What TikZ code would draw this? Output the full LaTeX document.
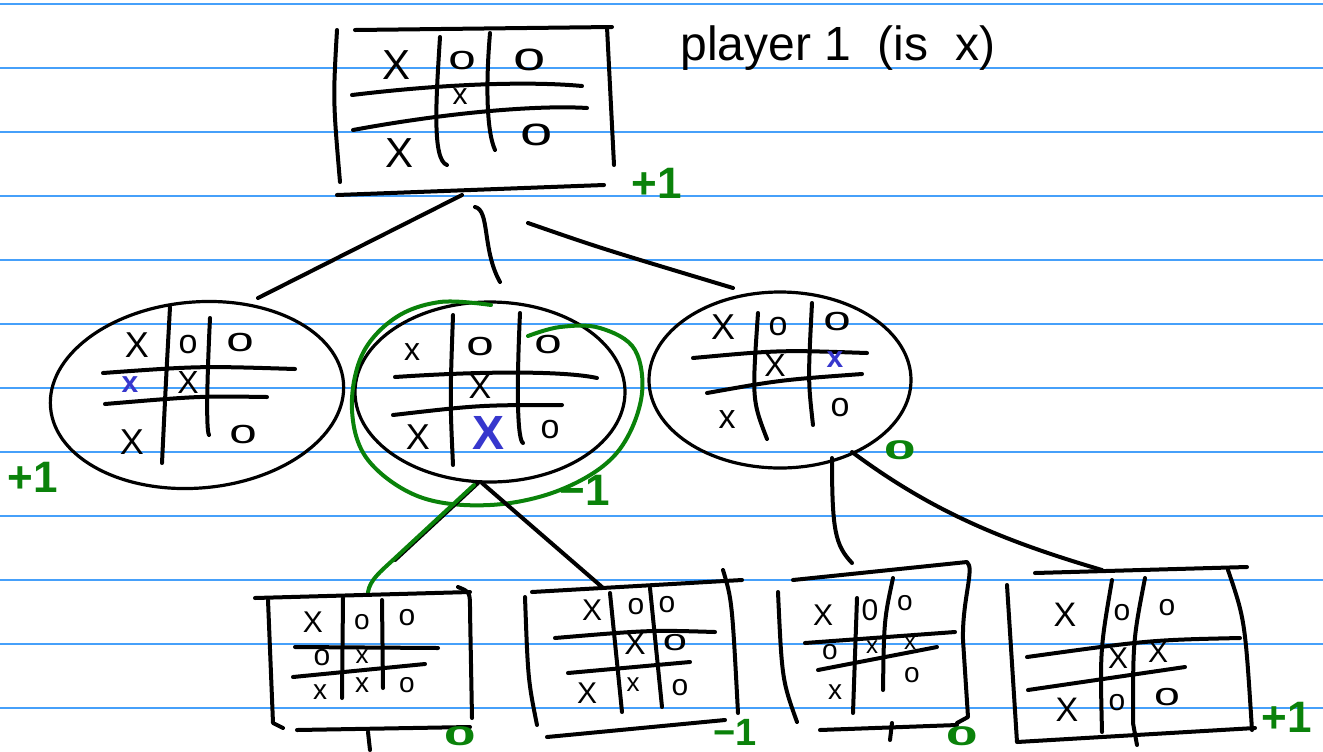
\documentclass[tikz,border=0pt]{standalone}
\usepackage{fontspec}
\usepackage{graphicx}
\setmainfont{Liberation Sans}
\usetikzlibrary{shapes.geometric}
\definecolor{ruleblue}{RGB}{70,160,250}
\definecolor{scoregreen}{RGB}{10,130,10}
\definecolor{moveblue}{RGB}{55,55,205}
\newcommand\wideo[1]{\scalebox{1.45}[1]{#1}}
\newcommand\flatz{\fontsize{18}{18}\selectfont\scalebox{1.6}[0.75]{0}}
\begin{document}
\begin{tikzpicture}[x=0.5pt,y=-0.5pt,
  rule/.style={draw=ruleblue,line width=0.75pt},
  ink/.style={draw=black,line width=2pt,line cap=round,line join=round},
  grn/.style={draw=scoregreen,line width=2pt,line cap=round,line join=round},
  oval/.style={draw=black,line width=1.6pt,ellipse,inner sep=0pt},
  mk/.style={inner sep=0pt,text=black,font=\fontsize{#1}{#1}\selectfont},
  bmk/.style={inner sep=0pt,text=moveblue,font=\fontsize{#1}{#1}\selectfont\bfseries},
  score/.style={inner sep=0pt,text=scoregreen,font=\fontsize{22}{22}\selectfont\bfseries},
  note/.style={inner sep=0pt,text=black,font=\fontsize{24}{24}\selectfont}
]
\fill[white] (0,0) rectangle (1323,751);
\useasboundingbox (0,0) rectangle (1323,751);
\foreach \y in {4,68,...,708} \draw[rule] (0,\y) -- (1323,\y);

% ---------------- top board
\draw[ink] (337,30) .. controls (333,100) .. (340,182);
\draw[ink] (355,30) -- (612,27);
\draw[ink] (607,27) -- (614,165);
\draw[ink] (337,195) -- (604,185);
\draw[ink] (352,95) .. controls (460,82) and (540,82) .. (582,86);
\draw[ink] (353,130) .. controls (450,112) and (540,105) .. (587,108);
\draw[ink] (440,37) .. controls (436,100) and (432,160) .. (447,165);
\draw[ink] (490,33) .. controls (486,80) and (486,130) .. (495,150);
\node[mk=21] (t1) at (397,65) {X};
\node[mk=17] (t2) at (462,61) {\wideo{o}};
\node[mk=20] (t3) at (530,60) {\wideo{o}};
\node[mk=15] (t4) at (460,97) {x};
\node[mk=21] (t5) at (400,153) {X};
\node[mk=20] (t6) at (537,135) {\wideo{o}};
\node[score] (sTop) at (657,183) {+1};
\node[note,anchor=west] (player) at (680,48) {player 1 \ (is \ x)};
\coordinate (topA) at (462,195);
\coordinate (topB) at (475,207);
\coordinate (topC) at (528,223);

% ---------------- middle level
\node[oval,minimum width=147pt,minimum height=93pt,rotate=5] (L) at (197,395) {};
\node[oval,minimum width=135pt,minimum height=90pt] (M) at (490,392) {};
\node[oval,minimum width=131pt,minimum height=88pt] (R) at (780,380) {};
\coordinate (Ltop) at (258,298);
\coordinate (Mtop) at (500,282);
\coordinate (Rtop) at (733,288);

\draw[ink] (topA) -- (Ltop);
\draw[ink] (topB) .. controls (490,210) and (482,250) .. (Mtop);
\draw[ink] (topC) .. controls (600,248) .. (Rtop);

% left board grid
\draw[ink] (170,307) .. controls (166,380) .. (162,463);
\draw[ink] (210,318) .. controls (207,380) and (206,430) .. (209,435);
\draw[ink] (103,373) .. controls (200,366) .. (295,369);
\draw[ink] (105,404) .. controls (200,396) .. (267,397);
\node[mk=18] (l1) at (137,345) {X};
\node[mk=17] (l2) at (188,345) {o};
\node[mk=17] (l3) at (240,343) {\wideo{o}};
\node[bmk=15] (l4) at (130,385) {x};
\node[mk=16] (l5) at (188,382) {X};
\node[mk=18] (l6) at (132,442) {X};
\node[mk=17] (l7) at (243,435) {\wideo{o}};
\node[score] (sL) at (33,477) {+1};

% middle board grid
\draw[ink] (453,315) .. controls (450,400) .. (453,465);
\draw[ink] (520,313) .. controls (516,400) and (518,440) .. (523,443);
\draw[ink] (395,377) .. controls (500,370) and (570,372) .. (597,378);
\draw[ink] (393,415) .. controls (480,405) .. (562,405);
\node[mk=16] (m1) at (412,352) {x};
\node[mk=17] (m2) at (480,347) {\wideo{o}};
\node[mk=17] (m3) at (548,345) {\wideo{o}};
\node[mk=17] (m4) at (480,387) {X};
\node[mk=18] (m5) at (418,437) {X};
\node[bmk=24] (m6) at (489,433) {X};
\node[mk=17] (m7) at (550,430) {o};
\draw[grn] plot[smooth,tension=0.6] coordinates {(491,305) (440,302) (395,318) (362,355) (352,410) (368,460) (420,497) (490,505) (560,490) (615,455) (641,400) (635,350) (600,328) (560,327) (528,336)};
\node[score] (sM) at (585,490) {−1};

% right board grid
\draw[ink] (758,313) .. controls (752,400) .. (767,439);
\draw[ink] (812,303) .. controls (808,380) .. (813,425);
\draw[ink] (693,358) .. controls (780,350) .. (867,353);
\draw[ink] (707,393) .. controls (780,380) .. (862,374);
\node[mk=18] (r1) at (723,327) {X};
\node[mk=17] (r2) at (778,327) {o};
\node[mk=17] (r3) at (837,322) {\wideo{o}};
\node[mk=16] (r4) at (775,365) {X};
\node[bmk=15] (r5) at (835,360) {x};
\node[mk=17] (r6) at (727,420) {x};
\node[mk=17] (r7) at (840,408) {o};
\node[score] (sR) at (900,450) {\flatz};

% connectors to bottom level
\coordinate (Mb1) at (478,483);
\coordinate (Mb2) at (482,483);
\coordinate (Rb1) at (832,458);
\coordinate (Rb2) at (852,452);
\coordinate (B1top) at (368,592);
\coordinate (B2top) at (602,587);
\coordinate (B3top) at (852,563);
\coordinate (B4top) at (1102,570);
\draw[ink] (Mb1) -- (395,560);
\draw[grn] (474,485) -- (393,560) .. controls (380,572) and (370,580) .. (B1top);
\draw[ink] (Mb2) -- (B2top);
\draw[ink] (Rb1) .. controls (832,530) and (835,545) .. (B3top);
\draw[ink] (Rb2) .. controls (930,510) and (1000,540) .. (B4top);

% ---------------- bottom board 1
\draw[ink] (255,598) -- (470,592);
\draw[ink] (458,587) .. controls (470,592) .. (470,610) -- (472,718);
\draw[ink] (268,600) -- (273,723) -- (283,728);
\draw[ink] (297,730) -- (470,727);
\draw[ink] (368,732) -- (370,750);
\draw[ink] (343,598) -- (342,698);
\draw[ink] (382,600) -- (383,688);
\draw[ink] (295,647) -- (438,648);
\draw[ink] (293,677) -- (425,664);
\node[mk=15] (a1) at (313,622) {X};
\node[mk=14] (a2) at (362,622) {o};
\node[mk=15] (a3) at (407,618) {o};
\node[mk=15] (a4) at (322,658) {o};
\node[mk=13] (a5) at (362,657) {x};
\node[mk=14] (a6) at (320,692) {x};
\node[mk=14] (a7) at (362,685) {x};
\node[mk=14] (a8) at (407,685) {o};
\node[score] (sB1) at (460,736) {\flatz};

% ---------------- bottom board 2
\draw[ink] (532,592) -- (742,580);
\draw[ink] (723,570) .. controls (732,600) .. (738,713);
\draw[ink] (525,597) .. controls (528,680) .. (537,725);
\draw[ink] (547,737) -- (725,720);
\draw[ink] (610,593) -- (622,712);
\draw[ink] (650,588) -- (662,707);
\draw[ink] (555,638) .. controls (650,630) .. (715,632);
\draw[ink] (568,673) -- (690,662);
\node[mk=15] (b1) at (592,610) {X};
\node[mk=15] (b2) at (636,607) {o};
\node[mk=15] (b3) at (667,605) {o};
\node[mk=16] (b4) at (635,643) {X};
\node[mk=15] (b5) at (675,643) {\wideo{o}};
\node[mk=15] (b6) at (587,693) {X};
\node[mk=13] (b7) at (633,685) {x};
\node[mk=15] (b8) at (680,688) {o};
\node[score,font=\fontsize{19}{19}\selectfont\bfseries] (sB2) at (735,732) {−1};

% ---------------- bottom board 3
\draw[ink] (793,580) -- (967,562) .. controls (975,568) and (962,600) .. (963,640) -- (968,717) -- (957,723);
\draw[ink] (778,592) .. controls (782,680) .. (797,722);
\draw[ink] (820,730) -- (957,725);
\draw[ink] (892,723) -- (890,740);
\draw[ink] (857,598) -- (853,713);
\draw[ink] (893,578) .. controls (884,620) .. (883,690);
\draw[ink] (805,643) -- (955,632);
\draw[ink] (818,670) -- (937,647);
\node[mk=15] (c1) at (823,615) {X};
\node[mk=15] (c2) at (870,610) {0};
\node[mk=14] (c3) at (905,603) {o};
\node[mk=14] (c4) at (830,652) {o};
\node[mk=12] (c5) at (872,647) {x};
\node[mk=12] (c6) at (910,643) {x};
\node[mk=14] (c7) at (835,692) {x};
\node[mk=14] (c8) at (912,675) {o};
\node[score] (sB3) at (962,736) {\flatz};

% ---------------- bottom board 4
\draw[ink] (1035,573) -- (1247,567);
\draw[ink] (1007,585) -- (1017,742) -- (1255,728);
\draw[ink] (1228,570) .. controls (1245,620) .. (1252,730);
\draw[ink] (1112,580) .. controls (1100,650) .. (1102,732);
\draw[ink] (1145,578) .. controls (1133,640) .. (1133,723) -- (1137,745);
\draw[ink] (1027,657) .. controls (1150,640) .. (1240,638);
\draw[ink] (1028,690) -- (1185,667);
\node[mk=17] (d1) at (1065,615) {X};
\node[mk=15] (d2) at (1122,613) {o};
\node[mk=15] (d3) at (1167,608) {o};
\node[mk=15] (d4) at (1118,658) {X};
\node[mk=15] (d5) at (1158,652) {X};
\node[mk=17] (d6) at (1067,710) {X};
\node[mk=15] (d7) at (1117,703) {o};
\node[mk=16] (d8) at (1167,697) {\wideo{o}};
\node[score] (sB4) at (1287,717) {+1};
\end{tikzpicture}
\end{document}
